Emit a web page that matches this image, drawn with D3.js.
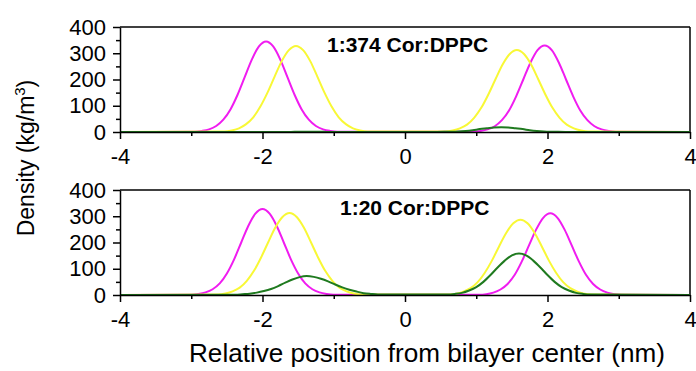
<!DOCTYPE html>
<html><head><meta charset="utf-8">
<script src="https://cdn.jsdelivr.net/npm/d3@7"></script>
<style>
html,body{margin:0;padding:0;background:#fff;}
svg{display:block;font-family:"Liberation Sans",Arial,sans-serif;}
</style></head>
<body>
<svg id="chart" width="696" height="371"></svg>
<script>
// ---- data ----
const xTicks = [-4, -2, 0, 2, 4];
const yTicks = [0, 100, 200, 300, 400];
const panelTitles = ["1:374 Cor:DPPC", "1:20 Cor:DPPC"];
const seriesNames = ["magenta", "yellow", "green"];
// sampled offsets (nm) around each peak centre
const offsets = [-1.0,-0.9,-0.8,-0.7,-0.6,-0.5,-0.4,-0.3,-0.2,-0.1,0,0.1,0.2,0.3,0.4,0.5,0.6,0.7,0.8,0.9,1.0];

// panel 1 (1:374)
const topMagentaCenters = [-1.95, 1.96];
const topMagentaL = [1,4,10,23,47,86,142,209,276,326,345,326,276,209,142,86,47,23,10,4,1];
const topMagentaR = [1,4,10,22,45,82,136,200,264,312,330,312,264,200,136,82,45,22,10,4,1];
const topYellowCenters = [-1.53, 1.57];
const topYellowL = [2,6,14,30,56,97,150,211,270,312,328,312,270,211,150,97,56,30,14,6,2];
const topYellowR = [2,6,14,28,54,92,143,201,257,297,312,297,257,201,143,92,54,28,14,6,2];
const topGreenCenters = [-1.35, 1.35];
const topGreenL = [0,0,0,0,0,0,0,0,0.5,0.5,0.5,0.5,0.5,0,0,0,0,0,0,0,0];
const topGreenR = [0,0.2,0.5,1,2,4,7,11,14,17,18,17,14,11,7,4,2,1,0.5,0.2,0];

// panel 2 (1:20)
const botMagentaCenters = [-2.0, 2.04];
const botMagentaL = [1,4,10,22,44,82,135,199,263,310,328,310,263,199,135,82,44,22,10,4,1];
const botMagentaR = [1,3,9,21,42,77,128,189,249,294,311,294,249,189,128,77,42,21,9,3,1];
const botYellowCenters = [-1.62, 1.62];
const botYellowL = [2,6,14,28,54,92,143,201,257,297,312,297,257,201,143,92,54,28,14,6,2];
const botYellowR = [2,5,13,26,49,85,131,185,236,273,287,273,236,185,131,85,49,26,13,5,2];
const botGreenCenters = [-1.38, 1.6];
const botGreenL = [1,3,5,9,15,23,34,47,59,68,72,69,62,52,40,29,20,13,7,4,2];
const botGreenR = [2,4,8,17,30,50,76,105,131,151,158,151,131,105,76,50,30,17,8,4,2];

const colors = {magenta: "#f01cf0", yellow: "#f8f836", green: "#1f7a1f"};

// ---- build series ----
function buildSeries(centers, leftVals, rightVals) {
  const pts = [[-4, 0]];
  offsets.forEach((o, i) => pts.push([centers[0] + o, leftVals[i]]));
  offsets.forEach((o, i) => pts.push([centers[1] + o, rightVals[i]]));
  pts.push([4, 0]);
  return pts;
}
const panels = [
  {title: panelTitles[0], titleX: 327, series: {
    magenta: buildSeries(topMagentaCenters, topMagentaL, topMagentaR),
    yellow: buildSeries(topYellowCenters, topYellowL, topYellowR),
    green: buildSeries(topGreenCenters, topGreenL, topGreenR)}},
  {title: panelTitles[1], titleX: 340, series: {
    magenta: buildSeries(botMagentaCenters, botMagentaL, botMagentaR),
    yellow: buildSeries(botYellowCenters, botYellowL, botYellowR),
    green: buildSeries(botGreenCenters, botGreenL, botGreenR)}}
];

// ---- layout ----
const svg = d3.select("#chart");
const x = d3.scaleLinear().domain([-4, 4]).range([120, 690]);
const panelY = [[132, 27], [295, 190]];

panels.forEach((p, pi) => {
  const y = d3.scaleLinear().domain([0, 400]).range(panelY[pi]);
  const g = svg.append("g");
  // box top & right
  g.append("line").attr("x1", x(-4)).attr("x2", x(4)).attr("y1", y(400)).attr("y2", y(400))
    .attr("stroke", "#000").attr("stroke-width", 1.5);
  g.append("line").attr("x1", x(4)).attr("x2", x(4)).attr("y1", y(0)).attr("y2", y(400))
    .attr("stroke", "#000").attr("stroke-width", 1.5);

  // curves
  const line = d3.line().x(d => x(d[0])).y(d => y(d[1])).curve(d3.curveMonotoneX);
  seriesNames.forEach(name => {
    g.append("path").datum(p.series[name]).attr("d", line)
      .attr("fill", "none").attr("stroke", colors[name]).attr("stroke-width", 2);
  });

  // x axis
  g.append("g").attr("transform", `translate(0,${y(0)})`)
    .call(d3.axisBottom(x).tickValues(xTicks).tickFormat(d => String(d)).tickSize(7).tickSizeOuter(0).tickPadding(9));
  g.append("g").attr("transform", `translate(0,${y(0)})`)
    .call(d3.axisBottom(x).tickValues([-3, -1, 1, 3]).tickFormat("").tickSize(4).tickSizeOuter(0))
    .call(s => s.select(".domain").remove());
  // y axis
  g.append("g").attr("transform", `translate(${x(-4)},0)`)
    .call(d3.axisLeft(y).tickValues(yTicks).tickFormat(d => String(d)).tickSize(7).tickSizeOuter(0).tickPadding(7));
  g.append("g").attr("transform", `translate(${x(-4)},0)`)
    .call(d3.axisLeft(y).tickValues([50, 150, 250, 350]).tickFormat("").tickSize(4).tickSizeOuter(0))
    .call(s => s.select(".domain").remove());
  g.selectAll(".domain, .tick line").attr("stroke", "#000").attr("stroke-width", 1.5);
  g.selectAll(".tick text").attr("font-size", 22).attr("fill", "#000")
    .attr("font-family", "'Liberation Sans', Arial, sans-serif");

  // panel title
  g.append("text").attr("x", p.titleX).attr("y", y(400) + 25)
    .attr("font-size", 21).attr("font-weight", "bold").text(p.title);
});

// axis titles
svg.append("text").attr("x", 427).attr("y", 362).attr("text-anchor", "middle")
  .attr("font-size", 25).attr("textLength", 476).attr("lengthAdjust", "spacingAndGlyphs")
  .text("Relative position from bilayer center (nm)");
const yt = svg.append("text").attr("transform", "translate(34,158) rotate(-90)")
  .attr("text-anchor", "middle").attr("font-size", 23);
yt.append("tspan").text("Density (kg/m");
yt.append("tspan").attr("dy", -9).attr("font-size", 15).text("3");
yt.append("tspan").attr("dy", 9).text(")");
</script>
</body></html>
